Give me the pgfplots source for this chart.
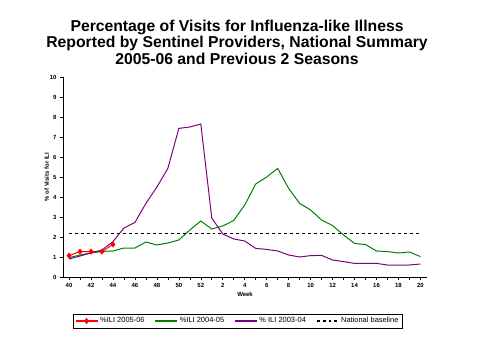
\documentclass[border=0pt]{standalone}
\usepackage{pgfplots}
\pgfplotsset{compat=1.18}
\usepackage{fontspec}
\setmainfont{Liberation Sans}
\definecolor{ilired}{RGB}{255,0,0}
\definecolor{iligreen}{RGB}{0,128,0}
\definecolor{ilipurple}{RGB}{128,0,128}
\pgfplotsset{
  longline legend/.style={legend image code/.code={%
    \draw[mark repeat=2,mark phase=2,##1] plot coordinates {(0bp,0bp) (11bp,0bp) (22bp,0bp)};}},
}
\pgfplotstableread{
idx s0506
0 1.07
1 1.27
2 1.27
3 1.27
4 1.63
}\tabA
\pgfplotstableread{
idx s0405
0 0.97
1 1.10
2 1.20
3 1.28
4 1.30
5 1.45
6 1.45
7 1.75
8 1.60
9 1.70
10 1.85
11 2.35
12 2.80
13 2.40
14 2.55
15 2.83
16 3.60
17 4.65
18 5.00
19 5.43
20 4.43
21 3.68
22 3.35
23 2.85
24 2.57
25 2.10
26 1.68
27 1.62
28 1.30
29 1.27
30 1.20
31 1.25
32 1.02
}\tabB
\pgfplotstableread{
idx s0304
0 0.90
1 1.05
2 1.20
3 1.35
4 1.77
5 2.45
6 2.73
7 3.68
8 4.50
9 5.43
10 7.43
11 7.50
12 7.65
13 2.95
14 2.15
15 1.90
16 1.80
17 1.43
18 1.38
19 1.30
20 1.10
21 1.00
22 1.07
23 1.08
24 0.85
25 0.77
26 0.68
27 0.68
28 0.68
29 0.60
30 0.60
31 0.60
32 0.65
}\tabC
\begin{document}
\begin{tikzpicture}[x=1bp,y=1bp]
\path[use as bounding box] (0,0) rectangle (480,360);
\node[align=center,font=\bfseries\fontsize{15.8}{16.5}\selectfont] at (237,318)
  {Percentage of Visits for Influenza-like Illness\\Reported by Sentinel Providers, National Summary\\2005-06 and Previous 2 Seasons};
\begin{axis}[
  at={(63bp,83bp)}, anchor=south west,
  width=364bp, height=200bp, scale only axis,
  xmin=-0.55, xmax=32.6, ymin=0, ymax=10,
  axis lines=left, axis line style={-, black, line width=0.8pt},
  tick align=outside, tick style={black, line width=0.6pt},
  major tick length=3bp, minor tick length=3bp,
  xtick={0,2,...,32},
  xticklabels={40,42,44,46,48,50,52,2,4,6,8,10,12,14,16,18,20},
  minor xtick={1,3,...,31},
  ytick={0,1,...,10},
  /pgf/number format/assume math mode=true,
  tick label style={font=\bfseries\fontsize{6}{7}\selectfont},
  xlabel={Week}, ylabel={\% of Visits for ILI},
  label style={font=\bfseries\fontsize{6}{7}\selectfont},
  xlabel style={yshift=2bp},
  ylabel style={yshift=-6bp},
  legend columns=4,
  legend style={at={(0.48,-0.22)}, anchor=center,
    font=\fontsize{7.5}{8}\selectfont, inner sep=1.5pt,
    /tikz/every even column/.append style={column sep=8bp}},
  longline legend,
  legend image post style={line width=1.2pt},
  legend cell align=left,
  clip=false,
]
\addplot[color=ilired, line width=1pt, mark=diamond*, mark size=2.8pt, mark options={fill=ilired, line width=0.4pt}] table[x=idx,y=s0506] {\tabA};
\addlegendentry{\%ILI 2005-06}
\addplot[color=iligreen, line width=1pt] table[x=idx,y=s0405] {\tabB};
\addlegendentry{\%ILI 2004-05}
\addplot[color=ilipurple, line width=1pt] table[x=idx,y=s0304] {\tabC};
\addlegendentry{\% ILI 2003-04}
\addplot[color=black, dashed, line width=0.8pt] coordinates {(0,2.2) (32,2.2)};
\addlegendentry{National baseline}
\end{axis}
\end{tikzpicture}
\end{document}
